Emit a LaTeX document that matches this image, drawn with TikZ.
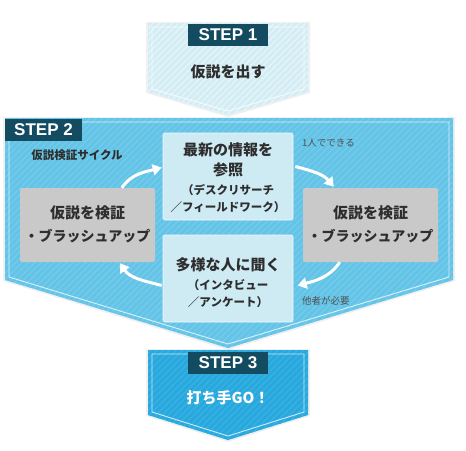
\documentclass[tikz,border=0pt]{standalone}
\usepackage{fontspec}
\newfontfamily\jp{Noto Sans CJK JP}
\newfontfamily\lib{Liberation Sans}
\usetikzlibrary{patterns.meta,arrows.meta,calc}
\definecolor{sonecol}{HTML}{D3EDF5}
\definecolor{stwocol}{HTML}{63C4E7}
\definecolor{sthreecol}{HTML}{27A8DE}
\definecolor{labcol}{HTML}{134B60}
\definecolor{grayboxcol}{HTML}{C9C9C9}
\definecolor{lightboxcol}{HTML}{CEEBF4}
\definecolor{txtcol}{HTML}{2E2E2E}
\definecolor{smalltxt}{HTML}{505050}
\begin{document}
\begin{tikzpicture}[x=1pt,y=-1pt,
  stripes/.style={pattern={Lines[angle=45,distance=4.5pt,line width=1.2pt]},pattern color=#1},
  innerline/.style={draw=white,line width=0.9pt,opacity=0.75},
  labbox/.style={fill=labcol,text=white,minimum width=80pt,minimum height=22pt,inner sep=0pt,font=\lib\bfseries\fontsize{17}{17}\selectfont},
  bigtxt/.style={text=txtcol,inner sep=0pt,font=\jp\bfseries\fontsize{15}{15}\selectfont},
  midtxt/.style={text=txtcol,inner sep=0pt,font=\jp\bfseries\fontsize{11.5}{11.5}\selectfont},
  notetxt/.style={text=smalltxt,inner sep=0pt,anchor=west,font=\jp\fontsize{9.5}{9.5}\selectfont},
  graybox/.style={fill=grayboxcol,rounded corners=2pt,minimum width=135pt,minimum height=74pt,inner sep=0pt},
  lightbox/.style={fill=lightboxcol,draw=white!70!lightboxcol,line width=0.6pt,rounded corners=2pt,minimum width=130pt,minimum height=87pt,inner sep=0pt},
  cyclearrow/.style={draw=white,line width=3pt,-{Triangle[length=9pt,width=11pt]}}
]
\useasboundingbox (0,0) rectangle (466,450);
% STEP 1 shape
\fill[black,opacity=0.06] (146,22) -- (310,22) -- (310,93) -- (228,117) -- (146,93) -- cycle;
\fill[sonecol] (148,23) -- (308,23) -- (308,92) -- (228,115) -- (148,92) -- cycle;
\fill[stripes=white!45!sonecol] (148,23) -- (308,23) -- (308,92) -- (228,115) -- (148,92) -- cycle;
\draw[innerline] (152,27) -- (304,27) -- (304,89) -- (228,111) -- (152,89) -- cycle;
% STEP 2 shape
\fill[black,opacity=0.06] (3,117) -- (455,117) -- (455,281) -- (228,350) -- (3,281) -- cycle;
\fill[stwocol] (5,118) -- (453,118) -- (453,280) -- (228,348) -- (5,280) -- cycle;
\fill[stripes=white!12!stwocol] (5,118) -- (453,118) -- (453,280) -- (228,348) -- (5,280) -- cycle;
\draw[innerline] (9,122) -- (449,122) -- (449,277) -- (228,344) -- (9,277) -- cycle;
% STEP 3 shape
\fill[black,opacity=0.06] (146,349) -- (310,349) -- (310,416) -- (228,442) -- (146,416) -- cycle;
\fill[sthreecol] (148,350) -- (308,350) -- (308,415) -- (228,440) -- (148,415) -- cycle;
\fill[stripes=white!10!sthreecol] (148,350) -- (308,350) -- (308,415) -- (228,440) -- (148,415) -- cycle;
\draw[innerline] (152,354) -- (304,354) -- (304,412) -- (228,436) -- (152,412) -- cycle;
% labels
\node[labbox] (s1lab) at (228,35) {STEP 1};
\node[bigtxt] (s1txt) at (228,72) {仮説を出す};
\node[labbox,minimum width=77pt] (s2lab) at (43.5,130) {STEP 2};
\node[text=txtcol,inner sep=0pt,font=\jp\bfseries\fontsize{11.5}{11.5}\selectfont] (cyc) at (77,155) {仮説検証サイクル};
\node[labbox] (s3lab) at (228,363) {STEP 3};
\node[bigtxt,text=white] (s3txt) at (228,398) {打ち手GO！};
% boxes
\node[lightbox] (tb) at (228,176.5) {};
\node[graybox] (gl) at (87.5,225) {};
\node[graybox] (gr) at (370.5,225) {};
\node[lightbox] (bb) at (228,278.5) {};
% box texts
\node[bigtxt] (tb1) at (228,150) {最新の情報を};
\node[bigtxt] (tb2) at (228,170) {参照};
\node[midtxt] (tb3) at (228,190) {（デスクリサーチ};
\node[midtxt] (tb4) at (228,207) {／フィールドワーク）};
\node[bigtxt] (gl1) at (87.5,213) {仮説を検証};
\node[bigtxt,font=\jp\bfseries\fontsize{14}{14}\selectfont] (gl2) at (87.5,236) {・ブラッシュアップ};
\node[bigtxt] (gr1) at (370.5,213) {仮説を検証};
\node[bigtxt,font=\jp\bfseries\fontsize{14}{14}\selectfont] (gr2) at (370.5,236) {・ブラッシュアップ};
\node[bigtxt] (bb1) at (228,265) {多様な人に聞く};
\node[midtxt] (bb2) at (228,285) {（インタビュー};
\node[midtxt] (bb3) at (228,302) {／アンケート）};
% notes
\node[notetxt] (n1) at (302,143) {1人でできる};
\node[notetxt] (n2) at (302,301) {他者が必要};
% arrows
\coordinate (a1s) at ($(gl.north west)+(102,0)$);
\coordinate (a1e) at ($(tb.west)+(-1,-9)$);
\coordinate (a2s) at ($(tb.east)+(2,-10)$);
\coordinate (a2e) at ($(gr.north west)+(31,-1)$);
\coordinate (a3s) at ($(gr.south west)+(37,0)$);
\coordinate (a3e) at ($(bb.west)+(135,7)$);
\coordinate (a4s) at ($(bb.west)+(-1,7)$);
\coordinate (a4e) at ($(gl.south west)+(100,1)$);
\draw[cyclearrow] (a1s) to[out=55,in=195] (a1e);
\draw[cyclearrow] (a2s) to[out=-15,in=130] (a2e);
\draw[cyclearrow] (a3s) to[out=235,in=15] (a3e);
\draw[cyclearrow] (a4s) to[out=165,in=-55] (a4e);
\end{tikzpicture}
\end{document}
